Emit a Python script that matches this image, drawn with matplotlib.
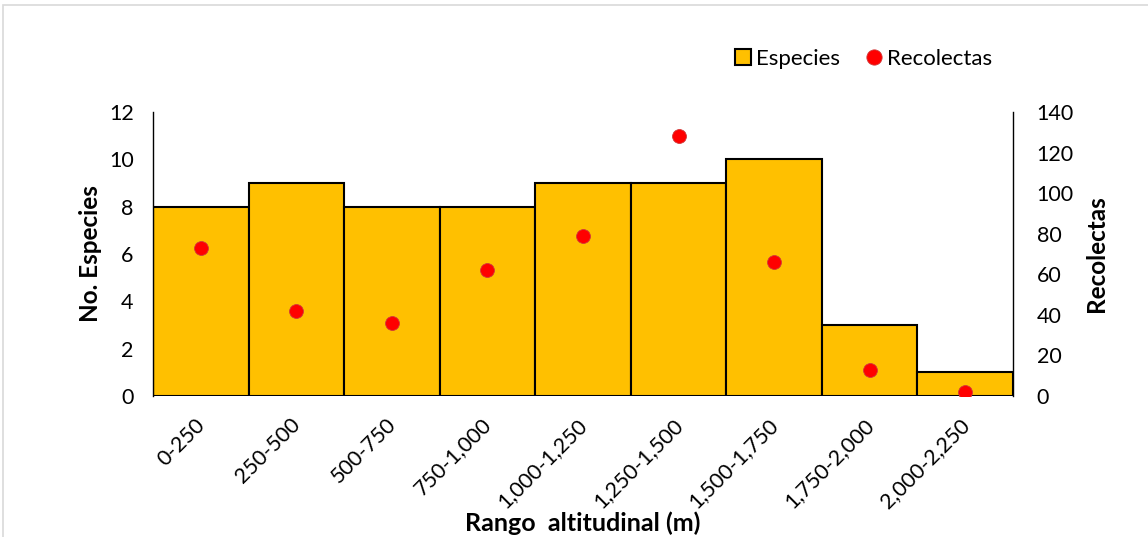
import matplotlib
matplotlib.use("Agg")
import matplotlib.pyplot as plt
from matplotlib.lines import Line2D
from matplotlib.patches import Rectangle

categories = ["0-250", "250-500", "500-750", "750-1,000", "1,000-1,250",
              "1,250-1,500", "1,500-1,750", "1,750-2,000", "2,000-2,250"]
especies = [8, 9, 8, 8, 9, 9, 10, 3, 1]
recolectas = [73, 42, 36, 62, 79, 128, 66, 13, 2]

plt.rcParams['font.family'] = ['Lato', 'DejaVu Sans']

W, H = 1148, 537
fig = plt.figure(figsize=(W / 100, H / 100), dpi=100)

# outer gray frame
fig.patches.append(Rectangle((3 / W, -0.1), 1.2, 1 - 4.5 / H + 0.1,
                             transform=fig.transFigure, fill=False,
                             edgecolor='#d9d9d9', linewidth=1.2))

ax = fig.add_axes([153 / W, 1 - 396 / H, (1013 - 153) / W, (396 - 112) / H])
x = list(range(len(categories)))
ax.bar(x, especies, width=1.0, color='#FFC000', edgecolor='black', linewidth=1.5, zorder=2)
ax.set_xlim(-0.5, len(categories) - 0.5)
ax.set_ylim(0, 12)
ax.set_yticks(range(0, 13, 2))
ax.tick_params(axis='y', length=0, labelsize=15.5, pad=14)
ax.tick_params(axis='x', length=0, labelsize=15.5, pad=4)
ax.set_xticks(x)
ax.set_xticklabels(categories, rotation=45, ha='right', rotation_mode='anchor')
for lab in ax.get_xticklabels():
    lab.set_transform(lab.get_transform() + matplotlib.transforms.ScaledTranslation(-0.06, -0.13, fig.dpi_scale_trans))
for s in ['top', 'right', 'bottom']:
    ax.spines[s].set_visible(False)
ax.spines['left'].set_linewidth(1.0)
ax.set_ylabel("No. Especies", fontsize=17.5, fontweight='bold', labelpad=5)
ax.set_xlabel("Rango  altitudinal (m)", fontsize=18, fontweight='bold', labelpad=0)

ax2 = ax.twinx()
ax2.plot(x, recolectas, linestyle='none', marker='o', markersize=10,
         markerfacecolor='#FF0000', markeredgecolor='#d03a3a', markeredgewidth=0.6, zorder=3)
ax2.set_ylim(0, 140)
ax2.set_yticks(range(0, 141, 20))
ax2.tick_params(axis='y', length=0, labelsize=15.5, pad=17)
for s in ['top', 'left', 'bottom']:
    ax2.spines[s].set_visible(False)
ax2.spines['right'].set_linewidth(1.0)
ax2.set_ylabel("Recolectas", fontsize=17.5, fontweight='bold', labelpad=8)

handles = [
    Line2D([], [], linestyle='none', marker='s', markersize=11,
           markerfacecolor='#FFC000', markeredgecolor='black', markeredgewidth=1.5),
    Line2D([], [], linestyle='none', marker='o', markersize=11,
           markerfacecolor='#FF0000', markeredgecolor='#d03a3a', markeredgewidth=0.6),
]
fig.legend(handles, ["Especies", "Recolectas"], loc='center', ncol=2,
           bbox_to_anchor=(862 / W, 1 - 59 / H), frameon=False, fontsize=16,
           handletextpad=0.1, columnspacing=1.0, handlelength=1.0)

fig.savefig("out.png", dpi=100)
